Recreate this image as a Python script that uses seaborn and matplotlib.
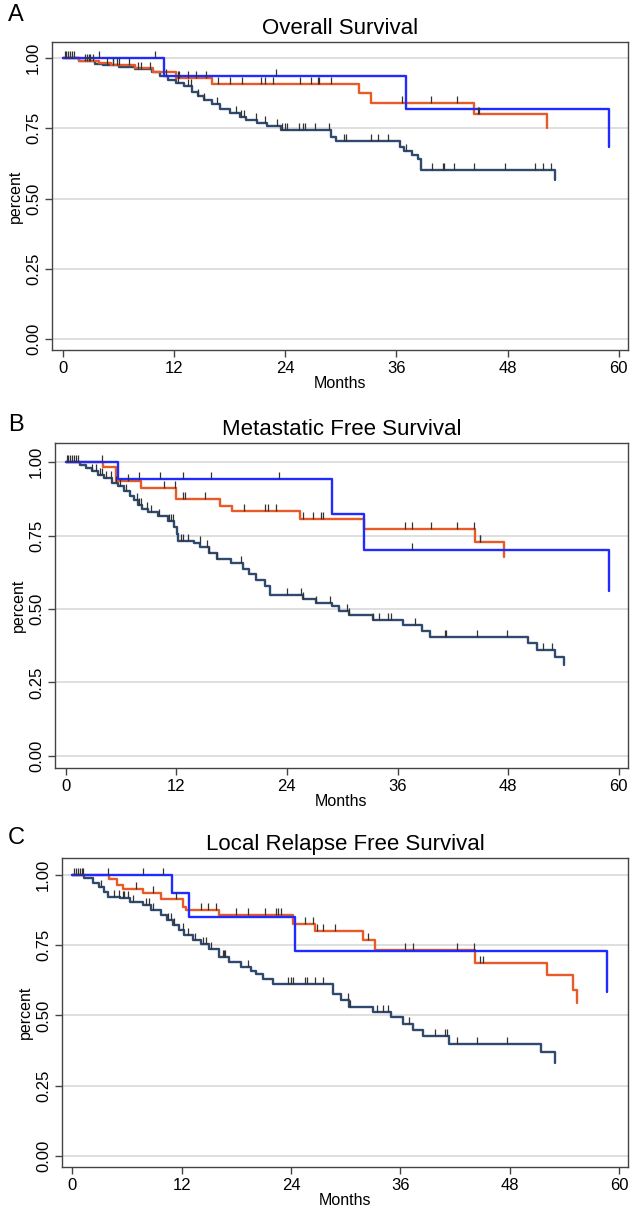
import numpy as np
import pandas as pd
import matplotlib
matplotlib.use("Agg")
import matplotlib.pyplot as plt
from matplotlib.path import Path
import seaborn as sns

# ---------------- data ----------------
panel_titles = ["Overall Survival", "Metastatic Free Survival", "Local Relapse Free Survival"]
panel_letters = ["A", "B", "C"]
x_ticks = [0, 12, 24, 36, 48, 60]
y_ticks = [0.0, 0.25, 0.50, 0.75, 1.00]
y_tick_labels = ["0.00", "0.25", "0.50", "0.75", "1.00"]
groups = ["navy", "orange", "blue"]

# Panel A: Overall Survival
os_navy_t = [0, 1.74, 3.49, 4.36, 6.1, 7.84, 9.59, 10.46, 11.33, 12.2, 13.07, 13.94, 14.6, 15.25, 16.12,
             16.99, 18.08, 19.17, 19.83, 20.92, 22.0, 23.53, 28.98, 29.5, 36.38, 36.8, 37.7, 38.3, 38.7, 53.1]
os_navy_s = [1.0, 0.99, 0.98, 0.975, 0.968, 0.96, 0.95, 0.935, 0.92, 0.91, 0.9, 0.88, 0.865, 0.85, 0.835,
             0.82, 0.805, 0.79, 0.78, 0.77, 0.757, 0.743, 0.72, 0.705, 0.684, 0.67, 0.654, 0.64, 0.60, 0.565]
os_navy_c = [0.2, 0.4, 0.6, 0.8, 1.0, 1.2, 2.6, 3.0, 4.8, 5.4, 5.9, 8.1, 8.5, 9.4, 11.1, 12.4, 13.5, 13.9,
             14.6, 15.3, 16.6, 18.7, 19.2, 19.6, 20.9, 21.8, 23.1, 23.7, 24.0, 24.2, 25.5, 25.9, 26.1, 27.2,
             28.7, 30.4, 30.6, 33.3, 34.0, 35.1, 37.0, 39.9, 41.0, 41.2, 42.2, 44.4, 47.7, 51.0, 51.8, 52.7]
os_orange_t = [0, 1.74, 3.92, 5.2, 7.84, 9.8, 12.2, 16.12, 32.0, 33.3, 44.36, 52.3]
os_orange_s = [1.0, 0.99, 0.982, 0.975, 0.965, 0.95, 0.93, 0.906, 0.877, 0.841, 0.80, 0.752]
os_orange_c = [2.4, 2.8, 3.3, 5.4, 6.1, 7.2, 12.4, 12.6, 13.5, 14.4, 15.5, 16.8, 18.1, 19.3, 21.4, 21.8,
               22.7, 25.6, 26.8, 27.5, 27.7, 29.0, 36.6, 39.7, 42.5, 44.8, 44.97]
os_blue_t = [0, 10.9, 37.0, 58.9]
os_blue_s = [1.0, 0.935, 0.82, 0.684]
os_blue_c = [3.9, 10.0, 23.0]

# Panel B: Metastatic Free Survival
mfs_navy_t = [0, 1.6, 2.26, 2.9, 3.56, 4.2, 5.08, 5.73, 6.38, 7.03, 7.47, 7.9, 8.34, 8.99, 10.07, 11.16,
              11.8, 12.03, 12.24, 13.98, 14.63, 15.5, 16.37, 17.89, 19.19, 19.84, 20.7, 21.58, 22.2, 25.7,
              27.2, 28.87, 29.6, 30.7, 33.3, 36.56, 38.7, 39.5, 50.2, 51.1, 53.1, 54.1]
mfs_navy_s = [1.0, 0.99, 0.98, 0.97, 0.955, 0.945, 0.93, 0.92, 0.9, 0.885, 0.87, 0.855, 0.84, 0.83, 0.815,
              0.8, 0.78, 0.755, 0.73, 0.725, 0.71, 0.69, 0.67, 0.655, 0.635, 0.62, 0.6, 0.58, 0.547, 0.534,
              0.519, 0.51, 0.494, 0.48, 0.463, 0.446, 0.426, 0.406, 0.386, 0.361, 0.336, 0.31]
mfs_navy_c = [0.1, 0.3, 0.5, 0.7, 0.9, 1.1, 1.3, 2.9, 3.3, 3.7, 4.0, 4.4, 4.9, 5.5, 5.9, 6.6, 7.7, 8.0, 8.2,
              8.8, 9.3, 10.1, 11.2, 11.4, 11.6, 12.5, 12.7, 13.3, 14.6, 15.3, 15.5, 16.4, 19.0, 24.0, 25.5,
              25.7, 27.2, 28.7, 30.5, 30.7, 33.3, 33.95, 35.0, 35.3, 37.9, 41.1, 41.3, 44.6, 47.9, 51.8, 52.8]
mfs_orange_t = [0, 4.1, 5.5, 8.2, 12.0, 16.7, 18.0, 25.4, 32.4, 44.4, 47.5]
mfs_orange_s = [1.0, 0.983, 0.934, 0.913, 0.875, 0.852, 0.832, 0.807, 0.773, 0.727, 0.678]
mfs_orange_c = [4.0, 6.8, 10.7, 11.9, 12.7, 12.9, 15.1, 19.4, 21.6, 21.9, 22.8, 25.7, 26.8, 27.7, 27.9,
                36.8, 37.6, 39.6, 42.4, 44.3, 44.9, 45.0]
mfs_blue_t = [0, 5.65, 28.9, 32.4, 58.9]
mfs_blue_s = [1.0, 0.943, 0.822, 0.702, 0.56]
mfs_blue_c = [8.0, 10.2, 12.7, 15.8, 23.1, 37.6]

# Panel C: Local Relapse Free Survival
lrfs_navy_t = [0, 1.32, 2.2, 2.86, 3.43, 3.87, 5.27, 6.37, 7.69, 8.57, 9.67, 10.33, 11.0, 11.65, 12.3, 13.2,
               14.07, 14.95, 16.04, 17.14, 18.46, 19.56, 20.2, 20.9, 21.98, 28.57, 29.45, 30.33, 32.97,
               34.95, 36.26, 37.36, 38.46, 41.3, 51.43, 52.97]
lrfs_navy_s = [1.0, 0.988, 0.97, 0.958, 0.94, 0.92, 0.917, 0.905, 0.893, 0.875, 0.857, 0.839, 0.82, 0.804,
               0.786, 0.77, 0.754, 0.735, 0.708, 0.69, 0.673, 0.658, 0.646, 0.631, 0.613, 0.577, 0.554, 0.53,
               0.512, 0.494, 0.47, 0.45, 0.427, 0.4, 0.369, 0.33]
lrfs_navy_c = [0.2, 0.4, 0.6, 0.8, 1.0, 1.2, 3.1, 4.6, 5.1, 5.5, 5.7, 6.1, 6.6, 8.1, 8.4, 8.8, 10.5, 10.8,
               11.2, 12.1, 12.7, 13.4, 14.3, 14.7, 15.2, 16.5, 16.6, 16.7, 19.3, 23.7, 24.0, 24.2, 25.5,
               25.7, 26.6, 27.5, 30.3, 30.5, 33.4, 34.1, 34.7, 36.9, 39.8, 40.9, 41.1, 42.2, 44.4, 47.7]
lrfs_orange_t = [0, 3.96, 4.84, 5.5, 7.7, 9.67, 12.1, 12.5, 16.04, 24.2, 26.6, 31.9, 33.2, 44.2, 52.1,
                 55.0, 55.4]
lrfs_orange_s = [1.0, 0.985, 0.964, 0.95, 0.935, 0.913, 0.887, 0.875, 0.857, 0.827, 0.801, 0.768, 0.732,
                 0.687, 0.643, 0.589, 0.544]
lrfs_orange_c = [3.9, 7.0, 8.8, 11.4, 14.1, 14.9, 15.8, 18.0, 19.3, 21.1, 22.4, 22.6, 22.9, 25.5, 26.4,
                 26.8, 27.5, 28.8, 32.5, 36.5, 37.4, 42.2, 44.1, 44.8, 45.05]
lrfs_blue_t = [0, 10.9, 12.75, 24.4, 58.7]
lrfs_blue_s = [1.0, 0.937, 0.849, 0.729, 0.583]
lrfs_blue_c = [7.7, 9.9]

panels = [
    {"navy": (os_navy_t, os_navy_s, os_navy_c), "orange": (os_orange_t, os_orange_s, os_orange_c),
     "blue": (os_blue_t, os_blue_s, os_blue_c)},
    {"navy": (mfs_navy_t, mfs_navy_s, mfs_navy_c), "orange": (mfs_orange_t, mfs_orange_s, mfs_orange_c),
     "blue": (mfs_blue_t, mfs_blue_s, mfs_blue_c)},
    {"navy": (lrfs_navy_t, lrfs_navy_s, lrfs_navy_c), "orange": (lrfs_orange_t, lrfs_orange_s, lrfs_orange_c),
     "blue": (lrfs_blue_t, lrfs_blue_s, lrfs_blue_c)},
]

# ---------------- style ----------------
colors = {"navy": "#2F4A6E", "orange": "#E85A28", "blue": "#1F2BFF"}
sns.set_theme(style="white")
plt.rcParams["font.family"] = ["Liberation Sans", "DejaVu Sans"]
plt.rcParams["text.color"] = "black"
plt.rcParams["axes.labelcolor"] = "black"
plt.rcParams["xtick.color"] = "black"
plt.rcParams["ytick.color"] = "black"

W, H = 631, 1210
fig = plt.figure(figsize=(W / 100, H / 100), dpi=100)

# axes boxes in pixels: left, top, right, bottom
boxes = [(52, 42, 628, 350), (55, 443, 628, 768), (62, 858, 628, 1167)]
ylims = [(-0.039, 1.057), (-0.041, 1.065), (-0.039, 1.06)]
letter_y = [15, 425, 838]

tick_path = Path([(0, 0), (0, 1)])

for i, (box, yl) in enumerate(zip(boxes, ylims)):
    l, t, r, b = box
    ax = fig.add_axes([l / W, 1 - b / H, (r - l) / W, (b - t) / H])
    for yv in y_ticks:
        ax.axhline(yv, color="#DCDCDC", lw=1.3, zorder=0)
    for g in groups:
        tt, ss, cc = panels[i][g]
        df = pd.DataFrame({"t": tt, "s": ss})
        sns.lineplot(data=df, x="t", y="s", ax=ax, color=colors[g], lw=1.7,
                     drawstyle="steps-post", estimator=None, sort=False, zorder=2)
    for g in groups:
        tt, ss, cc = panels[i][g]
        idx = np.searchsorted(np.array(tt), np.array(cc), side="right") - 1
        dfc = pd.DataFrame({"t": cc, "s": np.array(ss)[idx]})
        sns.scatterplot(data=dfc, x="t", y="s", ax=ax, marker=tick_path, s=110,
                        color="#333333", edgecolor="#333333", linewidth=0.9, zorder=3)
    ax.set_xlim(-1.15, 61)
    ax.set_ylim(*yl)
    ax.set_xticks(x_ticks)
    ax.set_xticklabels([str(v) for v in x_ticks])
    ax.set_yticks(y_ticks)
    ax.set_yticklabels(y_tick_labels, rotation=90, va="center")
    ax.tick_params(axis="both", direction="out", length=5, width=1.0, color="#444444",
                   labelcolor="black", labelsize=12, pad=3, left=True, bottom=True)
    for sp in ax.spines.values():
        sp.set_color("#444444")
        sp.set_linewidth(1.0)
    ax.set_xlabel("Months", fontsize=11.5, labelpad=0, color="black")
    ax.set_ylabel("percent", fontsize=11.5, labelpad=2, color="black")
    ax.set_title(panel_titles[i], fontsize=16, pad=6, color="black")
    fig.text(8 / W, 1 - letter_y[i] / H, panel_letters[i], fontsize=17, va="center", ha="left",
             color="black")

fig.savefig("out.png", dpi=100)
